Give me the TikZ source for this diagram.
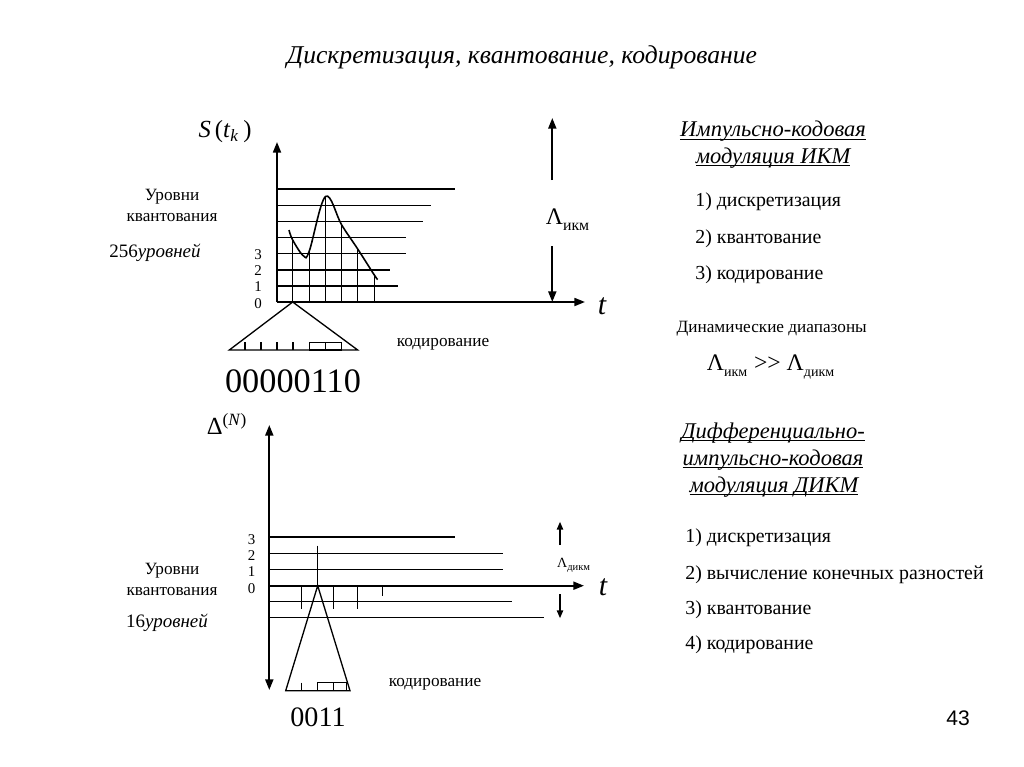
\documentclass[tikz,border=0pt]{standalone}
\usepackage{fontspec}
\setmainfont{Liberation Serif}
\newfontfamily\pagefont{Liberation Sans}
\usetikzlibrary{arrows.meta, positioning, calc}

% подчеркивание без учета выносных элементов
\newcommand{\ulline}[1]{\underline{\smash{#1}}}

\begin{document}
\begin{tikzpicture}[x=0.02cm, y=-0.02cm,
    ax/.style={line width=1.1pt, -{Triangle[length=6pt,width=4.5pt]}},
    lvl/.style={line width=0.75pt},
    txt/.style={font=\fontsize{9.8}{11}\selectfont, inner sep=0pt},
    nlev/.style={font=\fontsize{10.8}{12}\selectfont, inner sep=0pt},
    num/.style={font=\fontsize{8.5}{9}\selectfont, inner sep=0pt},
    item/.style={font=\fontsize{11.3}{13}\selectfont, inner sep=0pt, anchor=west},
    head/.style={font=\fontsize{12.8}{14}\selectfont\itshape, anchor=base, inner sep=0pt}]
    \useasboundingbox (0,0) rectangle (1024,767);

    % заголовок
    \node[font=\fontsize{14.6}{16}\selectfont\itshape, inner sep=0pt] (title) at (522,57) {Дискретизация, квантование, кодирование};

    % ИКМ: оси
    \coordinate (O1) at (277,302);
    \coordinate (Y1) at (277,142);
    \coordinate (T1) at (585,302);
    \draw[ax] (O1) -- (Y1);
    \draw[ax] (O1) -- (T1);
    \node[font=\fontsize{14}{16}\selectfont, inner sep=0pt] (s) at (225,132) {\textit{S}\,(\textit{t}\textsubscript{\textit{k}}\,)};
    \node[font=\fontsize{17}{18}\selectfont\itshape, inner sep=0pt] (t1) at (602,306) {t};

    % уровни квантования
    \foreach \y/\e in {189/455, 205.3/430.7, 221.3/422.7, 237.7/406, 253.7/406, 270/390, 286/398.3}
        \draw[lvl] (277,\y) -- (\e,\y);
    \foreach \n/\y in {0/303.3, 1/286.7, 2/270.7, 3/254.3}
        \node[num] at (258,\y) {\n};

    % отсчеты и сигнал
    \foreach \x/\y in {292.7/240, 309.3/251, 325.7/197, 341.7/225, 357.7/249, 374.3/275}
        \draw[lvl] (\x,302) -- (\x,\y);
    \draw[line width=0.9pt] plot[smooth, tension=0.6] coordinates {(289,230) (292.7,240) (303.3,255.7) (309.3,251) (325.5,196.5) (341.7,225) (357.7,249) (374.3,275) (377.7,279.5)};

    \node[txt] (lev1) at (172,197) {Уровни};
    \node[txt] (kv1) at (172,218) {квантования};
    \node[nlev] (n1) at (155,253) {256\textit{уровней}};

    % динамический диапазон ИКМ
    \node[font=\fontsize{13.5}{14}\selectfont, inner sep=0pt] (lamI) at (568,220) {Λ\textsubscript{\raisebox{-0.3ex}{\small икм}}};
    \coordinate (lamIa) at (552.3,180);
    \coordinate (lamIb) at (552.3,118);
    \coordinate (lamIc) at (552.3,246);
    \coordinate (lamId) at (552.3,302);
    \draw[ax] (lamIa) -- (lamIb);
    \draw[ax] (lamIc) -- (lamId);

    % кодирование ИКМ
    \draw[lvl] (292.7,302) -- (229.3,350) -- (357.7,350) -- cycle;
    \foreach \x in {245,261,277,293}
        \draw[lvl] (\x,342.3) -- (\x,350);
    \draw[lvl] (309.3,342.3) rectangle (341.7,350);
    \draw[lvl] (325.7,342.3) -- (325.7,350);
    \node[txt] (cod1) at (443,344) {кодирование};
    \node[font=\fontsize{19.5}{20}\selectfont, inner sep=0pt] (word1) at (293,381) {00000110};

    % ДИКМ: оси
    \coordinate (O2) at (269.3,585.7);
    \coordinate (T2) at (584,585.7);
    \coordinate (Ya) at (269.3,425);
    \coordinate (Yb) at (269.3,690);
    \draw[ax] (O2) -- (T2);
    \draw[line width=1.1pt, {Triangle[length=6pt,width=4.5pt]}-{Triangle[length=6pt,width=4.5pt]}] (Ya) -- (Yb);
    \node[font=\fontsize{14}{15}\selectfont, inner sep=0pt] (d) at (227,424) {Δ\textsuperscript{(\textit{N})}};
    \node[font=\fontsize{17}{18}\selectfont\itshape, inner sep=0pt] (t2) at (603,587) {t};

    \foreach \y/\e in {537/455, 553.7/503.3, 569.3/503.3, 601.7/511.7, 617.7/544}
        \draw[lvl] (269.3,\y) -- (\e,\y);
    \foreach \n/\y in {0/588.3, 1/571.7, 2/555.7, 3/540}
        \node[num] at (251.7,\y) {\n};
    \draw[lvl] (317.7,545.7) -- (317.7,585.7);
    \foreach \x in {301.3,333.7,357.7}
        \draw[lvl] (\x,585.7) -- (\x,609.3);
    \draw[lvl] (382.7,585.7) -- (382.7,595.7);

    \node[txt] (lev2) at (172,571) {Уровни};
    \node[txt] (kv2) at (172,592) {квантования};
    \node[nlev] (n2) at (167,623) {16\textit{уровней}};

    % динамический диапазон ДИКМ
    \node[font=\fontsize{8}{9}\selectfont, inner sep=0pt] (lamD) at (574,565) {Λ\textsubscript{\raisebox{-0.3ex}{дикм}}};
    \coordinate (lamDa) at (560,545);
    \coordinate (lamDb) at (560,521.7);
    \coordinate (lamDc) at (560,594.3);
    \coordinate (lamDd) at (560,618.3);
    \draw[line width=1pt, -{Triangle[length=4.5pt,width=3.5pt]}] (lamDa) -- (lamDb);
    \draw[line width=1pt, -{Triangle[length=4.5pt,width=3.5pt]}] (lamDc) -- (lamDd);

    % кодирование ДИКМ
    \draw[lvl] (317.7,585.7) -- (285.7,690.7) -- (350,690.7) -- cycle;
    \draw[lvl] (301.7,682.7) -- (301.7,690.7);
    \draw[lvl] (317.7,682.7) rectangle (346.7,690.7);
    \draw[lvl] (333.7,682.7) -- (333.7,690.7);
    \node[txt] (cod2) at (435,684) {кодирование};
    \node[font=\fontsize{16}{17}\selectfont, inner sep=0pt] (word2) at (318,717) {0011};

    % правая колонка: ИКМ
    \node[head] (h1a) at (773,136.5) {\ulline{Импульсно-кодовая}};
    \node[head] (h1b) at (773,163.3) {\ulline{модуляция ИКМ}};
    \node[item] (i1) at (695,201.7) {1) дискретизация};
    \node[item] (i2) at (695,238.3) {2) квантование};
    \node[item] (i3) at (695,274.3) {3) кодирование};
    \node[txt] (dyn) at (771.7,328.3) {Динамические диапазоны};
    \node[font=\fontsize{13.5}{14}\selectfont, inner sep=0pt] (cmp) at (771,367) {Λ\textsubscript{\raisebox{-0.3ex}{\footnotesize икм}} >{}> Λ\textsubscript{\raisebox{-0.3ex}{\footnotesize дикм}}};

    % правая колонка: ДИКМ
    \node[head] (h2a) at (773,438.3) {\ulline{Дифференциально-}};
    \node[head] (h2b) at (773,465.3) {\ulline{импульсно-кодовая}};
    \node[head] (h2c) at (774,492) {\ulline{модуляция ДИКМ}};
    \node[item] (j1) at (685,537.7) {1) дискретизация};
    \node[item] (j2) at (685,574.3) {2) вычисление конечных разностей};
    \node[item] (j3) at (685,610) {3) квантование};
    \node[item] (j4) at (685,645) {4) кодирование};

    % номер слайда
    \node[font=\pagefont\fontsize{12}{13}\selectfont, inner sep=0pt] (page) at (958,718) {43};
\end{tikzpicture}
\end{document}
